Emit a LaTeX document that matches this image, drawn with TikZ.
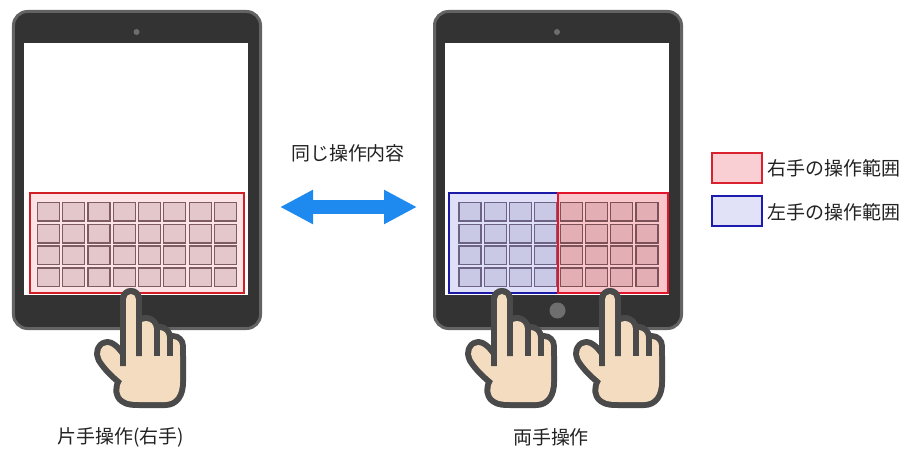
\documentclass[tikz,border=0pt]{standalone}
\usepackage{fontspec}
\newfontfamily\jp{Noto Sans CJK JP}
\usetikzlibrary{arrows.meta}

\definecolor{bezel}{HTML}{333333}
\definecolor{bezelrim}{HTML}{636363}
\definecolor{lens}{HTML}{6E6E6E}
\definecolor{padpink}{HTML}{FBE3E6}
\definecolor{padpinkline}{HTML}{D21F26}
\definecolor{keypink}{HTML}{E4C7CB}
\definecolor{keypinkline}{HTML}{7E5C62}
\definecolor{padblue}{HTML}{DFDFF7}
\definecolor{padblueline}{HTML}{1A1AA6}
\definecolor{keyblue}{HTML}{C9C9E6}
\definecolor{keyblueline}{HTML}{6C6385}
\definecolor{padred}{HTML}{F8C6CB}
\definecolor{padredline}{HTML}{E3152A}
\definecolor{keyred}{HTML}{E3AFB4}
\definecolor{keyredline}{HTML}{7C5258}
\definecolor{arrowblue}{HTML}{1E8AF0}
\definecolor{swred}{HTML}{F9CFD3}
\definecolor{swredline}{HTML}{D9222E}
\definecolor{swblue}{HTML}{E1E1F7}
\definecolor{swblueline}{HTML}{1B1BAE}
\definecolor{skin}{HTML}{F3DCBF}
\definecolor{handline}{HTML}{4A4A4A}
\definecolor{txt}{HTML}{222222}

\tikzset{
  tablet/.style={draw=bezelrim, fill=bezel, line width=0.09cm, rounded corners=0.42cm,
    minimum width=7.41cm, minimum height=9.51cm, inner sep=0pt},
  screen/.style={fill=white, minimum width=6.72cm, minimum height=7.56cm, inner sep=0pt},
  lensdot/.style={circle, fill=lens, minimum size=0.18cm, inner sep=0pt},
  homebtn/.style={circle, fill=lens, minimum size=0.48cm, inner sep=0pt},
  pad/.style={line width=0.06cm, minimum height=3.0cm, inner sep=0pt},
  padL/.style={pad, draw=padpinkline, fill=padpink, minimum width=6.42cm},
  padB/.style={pad, draw=padblueline, fill=padblue, minimum width=3.27cm},
  padR/.style={pad, draw=padredline, fill=padred, minimum width=3.3cm},
  keybox/.style={line width=0.036cm, minimum width=0.66cm, minimum height=0.564cm, inner sep=0pt},
  keyL/.style={keybox, draw=keypinkline, fill=keypink},
  keyB/.style={keybox, draw=keyblueline, fill=keyblue},
  keyR/.style={keybox, draw=keyredline, fill=keyred},
  swatch/.style={line width=0.06cm, minimum width=1.5cm, minimum height=0.9cm, inner sep=0pt},
  jptext/.style={text=txt, inner sep=0pt, font=\jp\fontsize{16.2pt}{19pt}\selectfont},
  % pointing hand: origin at the top of the index finger, thumb on the left
  pics/hand/.style={code={
    % outer silhouette of palm and thumb
    \draw[handline, line width=0.36cm, line join=round]
      (-5.25,70) .. controls (-10,62) and (-17,51) .. (-24,51)
      .. controls (-30,51) and (-33,59) .. (-29.5,65)
      .. controls (-24,74) and (-15,82) .. (-9,87)
      .. controls (-13,94) and (-13,101) .. (-7,105)
      .. controls (-3,108) and (3,108) .. (8,108)
      -- (34,108) .. controls (44,108) and (49,100) .. (49,88)
      -- (49,62) -- (0,62) -- cycle;
    % outer silhouette of the index finger
    \draw[handline, line width=0.675cm, line cap=round] (0,5.25) -- (0,80);
    % folded fingers: little, ring, middle
    \foreach \uc/\h/\vt in {42/7/45, 28.5/7.5/36, 15/8/27}{
      \draw[handline, line width={\h*0.06cm+0.36cm}, line cap=round] (\uc,\vt+\h) -- (\uc,80);
      \draw[skin, line width={\h*0.06cm}, line cap=round] (\uc,\vt+\h) -- (\uc,80);
    }
    % palm and thumb
    \fill[skin]
      (-5.25,70) .. controls (-10,62) and (-17,51) .. (-24,51)
      .. controls (-30,51) and (-33,59) .. (-29.5,65)
      .. controls (-24,74) and (-15,82) .. (-9,87)
      .. controls (-13,94) and (-13,101) .. (-7,105)
      .. controls (-3,108) and (3,108) .. (8,108)
      -- (34,108) .. controls (44,108) and (49,100) .. (49,88)
      -- (49,62) -- (0,62) -- cycle;
    % index finger in front
    \begin{scope}
      \clip (-16,-10) rectangle (0,72) (0,-10) rectangle (16,62);
      \draw[handline, line width=0.675cm, line cap=round] (0,5.25) -- (0,80);
    \end{scope}
    \draw[skin, line width=0.315cm, line cap=round] (0,5.25) -- (0,80);
  }}
}

\begin{document}
\begin{tikzpicture}[x=0.03cm, y=-0.03cm]
\useasboundingbox (0,0) rectangle (904,460);

% ---------- one-handed tablet ----------
\node[tablet] (tabA) at (137,170) {};
\node[screen] (scrA) at (136,169) {};
\node[lensdot] (camA) at (136.5,32) {};
\node[padL] (padA) at (137,243) {};
\foreach \c in {0,...,7}
  \foreach \r in {0,...,3}
    \node[keyL] (a-\r-\c) at ({48.35+25.3*\c},{211.7+21.9*\r}) {};

% ---------- two-handed tablet ----------
\node[tablet] (tabB) at (558,170) {};
\node[screen] (scrB) at (557,169) {};
\node[lensdot] (camB) at (557,32) {};
\node[homebtn] (homeB) at (557.5,310.5) {};
\node[padB] (padBL) at (503.5,243) {};
\node[padR] (padBR) at (613,243) {};
\foreach \c in {0,...,3}
  \foreach \r in {0,...,3}
    \node[keyB] (b-\r-\c) at ({469.95+25.3*\c},{211.7+21.9*\r}) {};
\foreach \c in {4,...,7}
  \foreach \r in {0,...,3}
    \node[keyR] (b-\r-\c) at ({469.95+25.3*\c},{211.7+21.9*\r}) {};

% ---------- hands ----------
\begin{scope}[shift={(131,294)}]
  \pic {hand};
\end{scope}
\begin{scope}[shift={(502,294)}, xscale=-1]
  \pic {hand};
\end{scope}
\begin{scope}[shift={(610,294)}]
  \pic {hand};
\end{scope}

% ---------- double arrow ----------
\node[jptext] (same) at (348,153) {同じ操作内容};
\coordinate (arrL) at (280,207);
\coordinate (arrR) at (417,207);
\draw[arrowblue, line width=0.42cm,
  {Triangle[length=0.99cm,width=0.96cm]}-{Triangle[length=0.99cm,width=0.96cm]}]
  (arrL) -- (arrR);

% ---------- legend ----------
\node[swatch, draw=swredline, fill=swred] (swR) at (737,168) {};
\node[jptext, anchor=west] (legR) at (767,168) {右手の操作範囲};
\node[swatch, draw=swblueline, fill=swblue] (swB) at (737,211.5) {};
\node[jptext, anchor=west] (legB) at (767,212) {左手の操作範囲};

% ---------- captions ----------
\node[jptext] (capA) at (121,437) {片手操作(右手)};
\node[jptext] (capB) at (551,437) {両手操作};
\end{tikzpicture}
\end{document}
